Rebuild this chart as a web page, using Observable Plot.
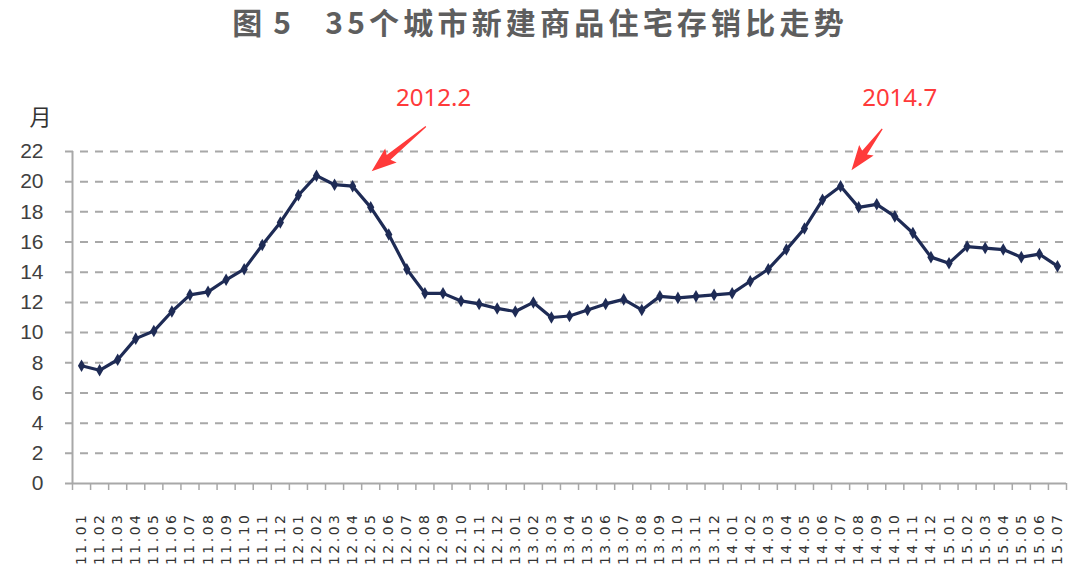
<!DOCTYPE html>
<html><head><meta charset="utf-8">
<script src="https://cdn.jsdelivr.net/npm/d3@7"></script>
<script src="https://cdn.jsdelivr.net/npm/@observablehq/plot@0.6"></script>
<style>
body{margin:0;background:#fff;}
#title{height:48px;line-height:42px;text-align:center;font-family:"Noto Sans CJK SC";font-weight:700;font-size:30px;color:#5e5e5e;letter-spacing:4.2px;white-space:pre;}
#title span{display:inline-block;}
#chart svg{display:block;}
</style></head><body>
<div id="title"><span>图</span><span style="margin-left:7px">5</span><span style="margin-left:30px">35个城市新建商品住宅存销比走势</span></div>
<div id="chart"></div>
<script>
const months = ["11.01","11.02","11.03","11.04","11.05","11.06","11.07","11.08","11.09","11.10","11.11","11.12",
"12.01","12.02","12.03","12.04","12.05","12.06","12.07","12.08","12.09","12.10","12.11","12.12",
"13.01","13.02","13.03","13.04","13.05","13.06","13.07","13.08","13.09","13.10","13.11","13.12",
"14.01","14.02","14.03","14.04","14.05","14.06","14.07","14.08","14.09","14.10","14.11","14.12",
"15.01","15.02","15.03","15.04","15.05","15.06","15.07"];
const ratio = [7.8,7.5,8.2,9.6,10.1,11.4,12.5,12.7,13.5,14.2,15.8,17.3,
19.1,20.4,19.8,19.7,18.3,16.5,14.2,12.6,12.6,12.1,11.9,11.6,
11.4,12.0,11.0,11.1,11.5,11.9,12.2,11.5,12.4,12.3,12.4,12.5,
12.6,13.4,14.2,15.5,16.9,18.8,19.7,18.3,18.5,17.7,16.6,15.0,
14.6,15.7,15.6,15.5,15.0,15.2,14.4];
const yTicks = [0,2,4,6,8,10,12,14,16,18,20,22];
const yUnit = "月";
const noteLabels = ["2012.2","2014.7"];
const noteTextX = [19.48, 45.27];
const noteTextY = [25.5, 25.5];
const arrowFromX = [19.08, 44.33];
const arrowFromY = [23.62, 23.46];
const arrowToX = [16.08, 42.63];
const arrowToY = [20.65, 20.72];

const data = ratio.map((v, i) => ({i, v, m: months[i]}));
const idx = d3.range(months.length);
const bounds = d3.range(months.length + 1).map(k => k - 0.5);
const notes = noteLabels.map((t, k) => ({t, x: noteTextX[k], y: noteTextY[k], x1: arrowFromX[k], y1: arrowFromY[k], x2: arrowToX[k], y2: arrowToY[k]}));

const navy = "#1e2b55";
const grey = "#a8a8a8";
const red = "#ff3a3a";

// filled tapered arrow drawn through the plot's own scales
function wedgeArrows(I, scales, values, dims, context) {
  const g = d3.create("svg:g").attr("aria-label", "annotation arrow");
  for (const k of I) {
    const d = notes[k];
    const tx = scales.x(d.x1), ty = scales.y(d.y1);
    const px = scales.x(d.x2), py = scales.y(d.y2);
    const len = Math.hypot(px - tx, py - ty);
    const ux = (px - tx) / len, uy = (py - ty) / len;
    const nx = -uy, ny = ux;
    const L = 22, W = 9, w = 3, t0 = 0.6;
    const bx = px - ux * L, by = py - uy * L;
    const cx = px - ux * (L + 3), cy = py - uy * (L + 3);
    const pts = [
      [tx + nx * t0, ty + ny * t0],
      [bx + nx * w, by + ny * w],
      [cx + nx * W, cy + ny * W],
      [px, py],
      [cx - nx * W, cy - ny * W],
      [bx - nx * w, by - ny * w],
      [tx - nx * t0, ty - ny * t0]
    ];
    g.append("path").attr("d", "M" + pts.map(p => p.join(",")).join("L") + "Z").attr("fill", red);
  }
  return g.node();
}

const plot = Plot.plot({
  width: 1080,
  height: 534,
  marginTop: 103,
  marginBottom: 99,
  marginLeft: 72,
  marginRight: 14,
  x: {type: "linear", domain: [-0.5, months.length - 0.5]},
  y: {domain: [0, 22]},
  style: {background: "#fff"},
  marks: [
    Plot.ruleY(yTicks.filter(d => d > 0), {stroke: grey, strokeWidth: 2, strokeDasharray: "8,7", insetLeft: -7, insetRight: 3}),
    Plot.ruleY([0], {stroke: grey, strokeWidth: 2, insetLeft: -7}),
    Plot.ruleX([-0.5], {y1: 0, y2: 22, stroke: grey, strokeWidth: 2}),
    Plot.axisX(bounds, {tickSize: 7, tickFormat: () => "", stroke: grey, strokeWidth: 1.5}),
    Plot.axisX(idx, {tickSize: 0, tickPadding: 29, tickRotate: -90, tickFormat: i => months[i], fontSize: 14, fontFamily: "DejaVu Sans", fill: "#333"}),
    Plot.axisY(yTicks, {tickSize: 0, tickPadding: 29, fontSize: 21, fontFamily: "Liberation Sans", fill: "#404040"}),
    Plot.text([yUnit], {frameAnchor: "top-left", dx: -43, dy: -42, fontSize: 22, fontFamily: "Noto Sans CJK SC", fill: "#333"}),
    Plot.line(data, {x: "i", y: "v", stroke: navy, strokeWidth: 3.2}),
    Plot.dot(data, {x: "i", y: "v", symbol: "diamond", r: 3.8, fill: navy}),
    Plot.dot(notes, {x: "x2", y: "y2", r: 0, render: wedgeArrows}),
    Plot.text(notes, {x: "x", y: "y", text: "t", fill: red, fontSize: 24, fontFamily: "Noto Sans"})
  ]
});
document.getElementById("chart").appendChild(plot);
d3.select(plot).selectAll("g[aria-label='x-axis tick label'] text").attr("letter-spacing", "2.5px");
</script>
</body></html>
